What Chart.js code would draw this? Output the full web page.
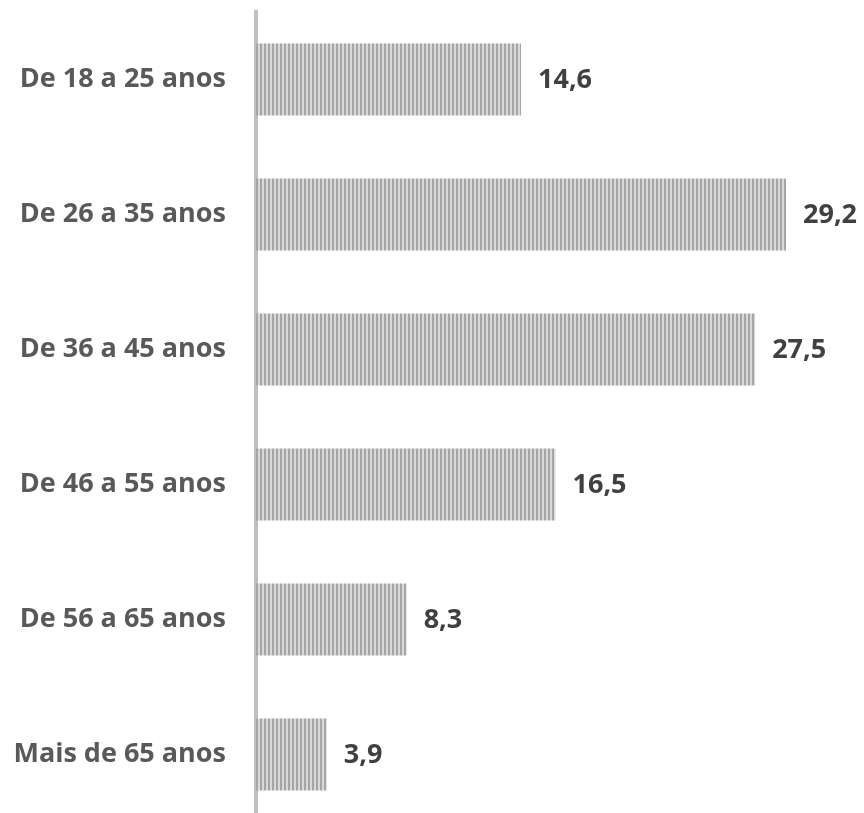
<!DOCTYPE html>
<html>
<head>
<meta charset="utf-8">
<script src="https://cdn.jsdelivr.net/npm/chart.js@4"></script>
<style>
html,body{margin:0;padding:0;background:#fff;overflow:hidden;}
</style>
</head>
<body>
<canvas id="c" width="864" height="830"></canvas>
<script>
const categories = ["De 18 a 25 anos","De 26 a 35 anos","De 36 a 45 anos","De 46 a 55 anos","De 56 a 65 anos","Mais de 65 anos"];
const values = [14.6, 29.2, 27.5, 16.5, 8.3, 3.9];
const labelTexts = ["14,6","29,2","27,5","16,5","8,3","3,9"];
const xMax = 33;

function makePattern(){
  const p = document.createElement('canvas');
  p.width = 4; p.height = 4;
  const g = p.getContext('2d');
  g.fillStyle = '#d9d9d9'; g.fillRect(0,0,4,4);
  g.fillStyle = '#a6a6a6'; g.fillRect(0,0,2,4);
  return g.createPattern(p,'repeat');
}

const valueLabels = {
  id:'valueLabels',
  afterDatasetsDraw(chart){
    const ctx = chart.ctx;
    const meta = chart.getDatasetMeta(0);
    ctx.save();
    ctx.font = 'bold 27px "Open Sans"';
    ctx.fillStyle = '#404040';
    ctx.textAlign = 'left';
    ctx.textBaseline = 'middle';
    meta.data.forEach((bar,i)=>{
      ctx.fillText(labelTexts[i], bar.x + 17, bar.y + 1);
    });
    ctx.restore();
  }
};

new Chart(document.getElementById('c'), {
  type:'bar',
  data:{
    labels:categories,
    datasets:[{
      data:values,
      backgroundColor:makePattern(),
      borderWidth:0,
      barPercentage:72/135,
      categoryPercentage:1
    }]
  },
  options:{
    indexAxis:'y',
    responsive:false,
    animation:false,
    layout:{padding:{top:12,bottom:8,left:0,right:9}},
    plugins:{legend:{display:false},tooltip:{enabled:false}},
    scales:{
      x:{display:false,min:0,max:xMax},
      y:{
        z:1,
        grid:{display:false,drawTicks:false},
        border:{display:true,color:'#bfbfbf',width:4},
        ticks:{padding:30,color:'#595959',font:{family:'"Open Sans"',weight:'bold',size:27}},
        afterFit(scale){scale.width = 256; scale.paddingTop = 0; scale.paddingBottom = 0;}
      }
    }
  },
  plugins:[valueLabels]
});
</script>
</body>
</html>
